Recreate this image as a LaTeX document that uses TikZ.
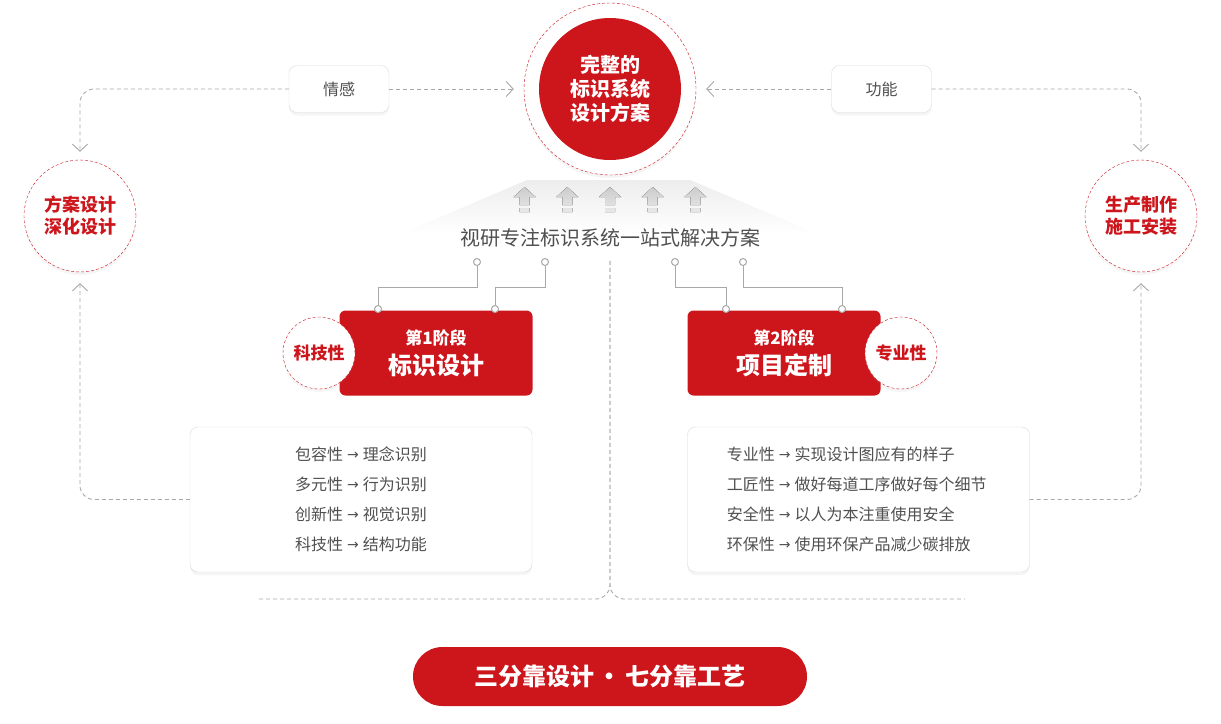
\documentclass[tikz,border=0pt]{standalone}
\usepackage{fontspec}
\setmainfont{Noto Sans CJK SC}
\newfontfamily\arrowfont{DejaVu Sans}
\usepackage{tikz}
\usetikzlibrary{arrows.meta,shadows}

\definecolor{brandred}{HTML}{CD151C}
\definecolor{linegray}{HTML}{A8A8A8}
\definecolor{inkgray}{HTML}{505050}
\definecolor{framegray}{HTML}{D9D9E3}
\newcommand{\fs}[2]{\fontsize{#1}{#2}\selectfont}
\newcommand{\goesto}{\kern4pt\raisebox{1pt}{\arrowfont\fs{14}{14}→}\kern4pt}
\pgfdeclareverticalshading{fadeout}{100bp}{color(0bp)=(white); color(25bp)=(white);
  color(42bp)=(white); color(75bp)=(black!7); color(100bp)=(black!7)}

\begin{document}
\begin{tikzpicture}[x=1pt,y=-1pt,
    soft/.style={drop shadow={opacity=0.08,shadow xshift=0pt,shadow yshift=-3pt}},
    tagbox/.style={draw=framegray,fill=white,rounded corners=8pt,minimum width=100pt,minimum height=47pt,text=inkgray,font=\fs{16}{16},soft},
    redring/.style={circle,draw=brandred,dash pattern=on 3pt off 2pt,fill=white,align=center,soft},
    bigring/.style={redring,minimum size=112pt,text=brandred,font=\bfseries\fs{18}{22}},
    smallring/.style={redring,minimum size=72pt,text=brandred,font=\bfseries\fs{17}{17}},
    stagebox/.style={fill=brandred,rounded corners=6pt,minimum width=193pt,minimum height=85pt,text=white,align=center,font=\bfseries\fs{17}{30}},
    listbox/.style={draw=framegray,fill=white,rounded corners=8pt,minimum width=342pt,minimum height=145pt,soft},
    listtext/.style={text=inkgray,font=\fs{16}{30}},
    flow/.style={draw=linegray,line width=0.9pt,dash pattern=on 4pt off 3pt,rounded corners=14pt},
    flowto/.style={flow,-{Straight Barb[length=7pt,width=15pt]}},
    wire/.style={draw=linegray,line width=1pt},
    knob/.style={circle,draw=linegray,fill=white,line width=1pt,inner sep=0pt,minimum size=7pt}]
\useasboundingbox (0,0) rectangle (1221,723);

\shade [shading=fadeout] (527,180) -- (690,180) -- (885,262) -- (335,262) -- cycle;
\foreach \i in {-2,...,2}
  \fill [top color=black!20,bottom color=black!9,shift={(610+42.7*\i,0)}]
    (-11,197) -- (0,187) -- (11,197) -- (5,197) -- (5,205) -- (-5,205) -- (-5,197) -- cycle
    (-5,208) rectangle (5,212);

\node [redring,minimum size=172pt] (halo) at (610,89) {};
\node [circle,fill=brandred,minimum size=142pt,text=white,align=center,
    font=\bfseries\fs{20}{24}] (goal) at (610,89) {完整的\\标识系统\\设计方案};

\node [tagbox] (emotion) at (339,89) {情感};
\node [tagbox] (func) at (881.5,89) {功能};
\node [bigring] (design) at (80,216) {方案设计\\深化设计};
\node [bigring] (make) at (1141,216) {生产制作\\施工安装};

\draw [flowto,shorten >=10pt] (emotion) -- (halo);
\draw [flowto,shorten >=10pt] (func) -- (halo);
\draw [flowto,shorten >=8pt] (emotion) -| (design);
\draw [flowto,shorten >=8pt] (func) -| (make);

\node [text=inkgray,font=\fs{20}{20}] (slogan) at (610,238) {视研专注标识系统一站式解决方案};

\node [stagebox] (stage1) at (436,353) {第1阶段\\{\fs{24}{30}标识设计}};
\node [stagebox] (stage2) at (784,353) {第2阶段\\{\fs{24}{30}项目定制}};
\node [smallring] (tech) at (319,353) {科技性};
\node [smallring] (pro) at (901,353) {专业性};

\node [knob] (p1) at (477,262) {};
\node [knob] (p2) at (545,262) {};
\node [knob] (p3) at (675,262) {};
\node [knob] (p4) at (743,262) {};
\node [knob] (q1) at (378,309) {};
\node [knob] (q2) at (495,309) {};
\node [knob] (q3) at (726,309) {};
\node [knob] (q4) at (842,309) {};
\draw [wire] (p1) -- ++(0,25) -| (q1);
\draw [wire] (p2) -- ++(0,25) -| (q2);
\draw [wire] (p3) -- ++(0,25) -| (q3);
\draw [wire] (p4) -- ++(0,25) -| (q4);

\node [listbox] (values) at (361,499.5) {};
\node [listtext,align=center] (valuestext) at (values.center)
    {包容性\goesto 理念识别\\多元性\goesto 行为识别\\创新性\goesto 视觉识别\\科技性\goesto 结构功能};
\node [listbox] (crafts) at (858.5,499.5) {};
\node [listtext,align=left,anchor=west] (craftstext) at ([xshift=36pt]crafts.west)
    {专业性\goesto 实现设计图应有的样子\\工匠性\goesto 做好每道工序做好每个细节\\安全性\goesto 以人为本注重使用安全\\环保性\goesto 使用环保产品减少碳排放};

\draw [flowto,shorten >=11pt] (values) -| (design);
\draw [flowto,shorten >=11pt] (crafts) -| (make);

\coordinate (endL) at (258,599);
\coordinate (endR) at (965,599);
\draw [flow,shorten <=10pt] (slogan) |- (endL);
\draw [flow,shorten <=10pt] (slogan) |- (endR);

\node [fill=brandred,rounded corners=29.5pt,minimum width=394pt,minimum height=59pt,text=white,
    font=\bfseries\fs{24}{24}] (motto) at (610,676.5) {三分靠设计\,·\,七分靠工艺};
\end{tikzpicture}
\end{document}
